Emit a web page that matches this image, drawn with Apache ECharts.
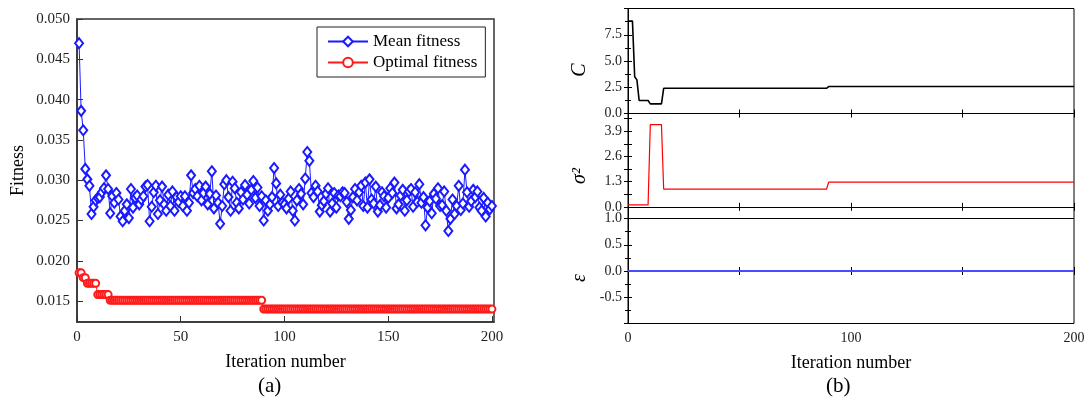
<!DOCTYPE html>
<html>
<head>
<meta charset="utf-8">
<title>Fitness and parameters</title>
<script src="https://cdn.jsdelivr.net/npm/echarts@6/dist/echarts.min.js"></script>
<style>
  html, body { margin: 0; padding: 0; background: #fff; }
  #chart { width: 1089px; height: 402px; }
</style>
</head>
<body>
<div id="chart"></div>
<script>
// (a) fitness per iteration, iterations 1..200
const meanFitness = [
  0.0470, 0.0386, 0.0362, 0.0314, 0.0301, 0.0293, 0.0258, 0.0267, 0.0275, 0.0278,
  0.0279, 0.0285, 0.0290, 0.0306, 0.0289, 0.0259, 0.0280, 0.0272, 0.0284, 0.0276,
  0.0255, 0.0249, 0.0262, 0.0270, 0.0253, 0.0289, 0.0266, 0.0278, 0.0281, 0.0270,
  0.0276, 0.0280, 0.0292, 0.0294, 0.0249, 0.0267, 0.0285, 0.0293, 0.0258, 0.0275,
  0.0292, 0.0270, 0.0262, 0.0282, 0.0268, 0.0286, 0.0262, 0.0279, 0.0273, 0.0280,
  0.0268, 0.0280, 0.0262, 0.0272, 0.0306, 0.0284, 0.0289, 0.0280, 0.0293, 0.0275,
  0.0284, 0.0292, 0.0270, 0.0283, 0.0311, 0.0265, 0.0281, 0.0272, 0.0246, 0.0268,
  0.0295, 0.0300, 0.0279, 0.0262, 0.0298, 0.0290, 0.0272, 0.0265, 0.0285, 0.0276,
  0.0294, 0.0282, 0.0271, 0.0288, 0.0299, 0.0278, 0.0291, 0.0268, 0.0280, 0.0250,
  0.0275, 0.0262, 0.0270, 0.0279, 0.0315, 0.0296, 0.0268, 0.0282, 0.0272, 0.0270,
  0.0265, 0.0277, 0.0286, 0.0262, 0.0250, 0.0275, 0.0289, 0.0283, 0.0270, 0.0302,
  0.0335, 0.0324, 0.0284, 0.0279, 0.0293, 0.0286, 0.0261, 0.0269, 0.0274, 0.0283,
  0.0290, 0.0261, 0.0271, 0.0284, 0.0266, 0.0281, 0.0280, 0.0285, 0.0284, 0.0273,
  0.0252, 0.0263, 0.0279, 0.0289, 0.0275, 0.0285, 0.0293, 0.0268, 0.0297, 0.0266,
  0.0301, 0.0276, 0.0271, 0.0292, 0.0261, 0.0269, 0.0285, 0.0280, 0.0266, 0.0278,
  0.0290, 0.0284, 0.0297, 0.0265, 0.0270, 0.0281, 0.0288, 0.0262, 0.0275, 0.0286,
  0.0289, 0.0267, 0.0285, 0.0273, 0.0295, 0.0272, 0.0279, 0.0244, 0.0266, 0.0274,
  0.0259, 0.0283, 0.0277, 0.0290, 0.0268, 0.0269, 0.0286, 0.0262, 0.0237, 0.0252,
  0.0276, 0.0258, 0.0268, 0.0293, 0.0263, 0.0271, 0.0313, 0.0285, 0.0267, 0.0274,
  0.0288, 0.0279, 0.0286, 0.0266, 0.0262, 0.0278, 0.0255, 0.0272, 0.0264, 0.0268
];
const optimalFitness = [
  0.0185, 0.0185, 0.0179, 0.0179, 0.0172, 0.0172, 0.0172, 0.0172, 0.0172, 0.0158,
  0.0158, 0.0158, 0.0158, 0.0158, 0.0158, 0.0151, 0.0151, 0.0151, 0.0151, 0.0151,
  0.0151, 0.0151, 0.0151, 0.0151, 0.0151, 0.0151, 0.0151, 0.0151, 0.0151, 0.0151,
  0.0151, 0.0151, 0.0151, 0.0151, 0.0151, 0.0151, 0.0151, 0.0151, 0.0151, 0.0151,
  0.0151, 0.0151, 0.0151, 0.0151, 0.0151, 0.0151, 0.0151, 0.0151, 0.0151, 0.0151,
  0.0151, 0.0151, 0.0151, 0.0151, 0.0151, 0.0151, 0.0151, 0.0151, 0.0151, 0.0151,
  0.0151, 0.0151, 0.0151, 0.0151, 0.0151, 0.0151, 0.0151, 0.0151, 0.0151, 0.0151,
  0.0151, 0.0151, 0.0151, 0.0151, 0.0151, 0.0151, 0.0151, 0.0151, 0.0151, 0.0151,
  0.0151, 0.0151, 0.0151, 0.0151, 0.0151, 0.0151, 0.0151, 0.0151, 0.0151, 0.0140,
  0.0140, 0.0140, 0.0140, 0.0140, 0.0140, 0.0140, 0.0140, 0.0140, 0.0140, 0.0140,
  0.0140, 0.0140, 0.0140, 0.0140, 0.0140, 0.0140, 0.0140, 0.0140, 0.0140, 0.0140,
  0.0140, 0.0140, 0.0140, 0.0140, 0.0140, 0.0140, 0.0140, 0.0140, 0.0140, 0.0140,
  0.0140, 0.0140, 0.0140, 0.0140, 0.0140, 0.0140, 0.0140, 0.0140, 0.0140, 0.0140,
  0.0140, 0.0140, 0.0140, 0.0140, 0.0140, 0.0140, 0.0140, 0.0140, 0.0140, 0.0140,
  0.0140, 0.0140, 0.0140, 0.0140, 0.0140, 0.0140, 0.0140, 0.0140, 0.0140, 0.0140,
  0.0140, 0.0140, 0.0140, 0.0140, 0.0140, 0.0140, 0.0140, 0.0140, 0.0140, 0.0140,
  0.0140, 0.0140, 0.0140, 0.0140, 0.0140, 0.0140, 0.0140, 0.0140, 0.0140, 0.0140,
  0.0140, 0.0140, 0.0140, 0.0140, 0.0140, 0.0140, 0.0140, 0.0140, 0.0140, 0.0140,
  0.0140, 0.0140, 0.0140, 0.0140, 0.0140, 0.0140, 0.0140, 0.0140, 0.0140, 0.0140,
  0.0140, 0.0140, 0.0140, 0.0140, 0.0140, 0.0140, 0.0140, 0.0140, 0.0140, 0.0140
];
const fitnessTicks = [0.015, 0.020, 0.025, 0.030, 0.035, 0.040, 0.045, 0.050];
const iterTicksA = [0, 50, 100, 150, 200];

// (b) parameters, [iteration, value] at the corners of each line
const paramC = [[0, 8.8], [2, 8.8], [3, 3.5], [4, 3.2], [5, 1.24], [9, 1.24], [10, 0.92],
  [15, 0.92], [16, 2.4], [89, 2.4], [90, 2.57], [200, 2.57]];
const paramSigma = [[0, 0.1], [9, 0.1], [10, 4.24], [15, 4.24], [16, 0.91], [89, 0.91],
  [90, 1.27], [200, 1.27]];
const paramEps = [[0, 0], [200, 0]];
const cLabels = [0, 2.5, 5, 7.5];
const sigmaTicks = [0, 0.65, 1.3, 1.95, 2.6, 3.25, 3.9, 4.55];
const sigmaLabels = [0, 1.3, 2.6, 3.9];
const epsLabels = [-0.5, 0, 0.5, 1];
const iterLabelsB = [0, 100, 200];

const serif = "'Liberation Serif', 'DejaVu Serif', serif";
const chart = echarts.init(document.getElementById('chart'));

// one x axis of the right-hand panels
function panelX(grid, pos, showLabels) {
  return {
    type: 'value', gridIndex: grid, position: pos, min: 0, max: 200, interval: 50,
    axisLine: { show: true, lineStyle: { color: '#000', width: 1 } },
    axisTick: { show: true, inside: true, length: 4, lineStyle: { color: '#000' } },
    axisLabel: {
      show: showLabels, customValues: iterLabelsB, margin: 8,
      fontFamily: serif, fontSize: 14, color: '#222'
    },
    splitLine: { show: false }
  };
}

// one y axis of the right-hand panels
function panelY(grid, pos, range, labels) {
  const ax = {
    type: 'value', gridIndex: grid, position: pos, min: range[0], max: range[1],
    axisLine: { show: true, lineStyle: { color: '#000', width: 1 } },
    axisTick: { show: true, inside: true, length: 4, lineStyle: { color: '#000' } },
    minorTick: { show: false },
    axisLabel: {
      show: pos === 'left', customValues: labels, margin: 6,
      fontFamily: serif, fontSize: 14, color: '#222',
      formatter: v => v.toFixed(1)
    },
    splitLine: { show: false }
  };
  if (range[2]) {
    ax.interval = range[2];
    ax.minorTick = { show: true, splitNumber: 2, length: 3, lineStyle: { color: '#000' } };
  } else {
    ax.axisTick.customValues = sigmaTicks;
  }
  return ax;
}

// rotated italic names of the right-hand panels
function sideName(text, x, y) {
  return {
    type: 'text', x: x, y: y, rotation: Math.PI / 2,
    style: {
      text: text, font: 'italic 20px ' + serif, fill: '#000',
      align: 'center', verticalAlign: 'middle'
    }
  };
}

const option = {
  animation: false,
  backgroundColor: '#fff',
  grid: [
    { left: 77, top: 19, width: 417, height: 303, show: true, borderColor: '#333', borderWidth: 1.5 },
    { left: 628, top: 8.5, width: 446, height: 105, show: true, borderColor: '#000', borderWidth: 1 },
    { left: 628, top: 113.5, width: 446, height: 105, show: true, borderColor: '#000', borderWidth: 1 },
    { left: 628, top: 218.5, width: 446, height: 105, show: true, borderColor: '#000', borderWidth: 1 }
  ],
  legend: {
    orient: 'vertical', left: 317, top: 27,
    padding: [6, 8, 6, 10], itemGap: 4, itemWidth: 40, itemHeight: 12,
    borderColor: '#222', borderWidth: 1, backgroundColor: '#fff',
    textStyle: { fontFamily: serif, fontSize: 17, color: '#000' },
    data: ['Mean fitness', 'Optimal fitness']
  },
  xAxis: [
    {
      type: 'value', gridIndex: 0, min: 0, max: 201,
      name: 'Iteration number', nameLocation: 'middle', nameGap: 31,
      nameTextStyle: { fontFamily: serif, fontSize: 18, color: '#000' },
      axisLine: { show: true, lineStyle: { color: '#333', width: 1.5 } },
      axisTick: { show: true, inside: true, length: 6, customValues: iterTicksA, lineStyle: { color: '#333' } },
      axisLabel: { customValues: iterTicksA, margin: 8, fontFamily: serif, fontSize: 15, color: '#222' },
      splitLine: { show: false }
    },
    panelX(1, 'bottom', false), panelX(1, 'top', false),
    panelX(2, 'bottom', false), panelX(2, 'top', false),
    Object.assign(panelX(3, 'bottom', true), {
      name: 'Iteration number', nameLocation: 'middle', nameGap: 31,
      nameTextStyle: { fontFamily: serif, fontSize: 18, color: '#000' }
    }),
    panelX(3, 'top', false)
  ],
  yAxis: [
    {
      type: 'value', gridIndex: 0, min: 0.0124, max: 0.050,
      name: 'Fitness', nameLocation: 'middle', nameRotate: 90, nameGap: 50,
      nameTextStyle: { fontFamily: serif, fontSize: 18, color: '#000' },
      axisLine: { show: true, lineStyle: { color: '#333', width: 1.5 } },
      axisTick: { show: true, inside: true, length: 6, customValues: fitnessTicks, lineStyle: { color: '#333' } },
      axisLabel: {
        customValues: fitnessTicks, margin: 7, fontFamily: serif, fontSize: 15, color: '#222',
        formatter: v => v.toFixed(3)
      },
      splitLine: { show: false }
    },
    panelY(1, 'left', [0, 10, 2.5], cLabels),
    panelY(1, 'right', [0, 10, 2.5], cLabels),
    panelY(2, 'left', [-0.6, 4.81], sigmaLabels),
    panelY(2, 'right', [-0.6, 4.81], sigmaLabels),
    panelY(3, 'left', [-1, 1, 0.5], epsLabels),
    panelY(3, 'right', [-1, 1, 0.5], epsLabels)
  ],
  graphic: [
    { type: 'text', left: 258, top: 376, style: { text: '(a)', font: '21px ' + serif, fill: '#000' } },
    { type: 'text', left: 826, top: 376, style: { text: '(b)', font: '21px ' + serif, fill: '#000' } },
    sideName('C', 580, 70),
    sideName('σ²', 580, 176),
    sideName('ε', 580, 278)
  ],
  series: [
    {
      name: 'Mean fitness', type: 'line', xAxisIndex: 0, yAxisIndex: 0,
      data: meanFitness.map((v, i) => [i + 1, v]),
      symbol: 'emptyDiamond', symbolSize: [8, 10],
      lineStyle: { color: '#1a1aff', width: 1 },
      itemStyle: { color: '#1a1aff', borderWidth: 1 }
    },
    {
      name: 'Optimal fitness', type: 'line', xAxisIndex: 0, yAxisIndex: 0,
      data: optimalFitness.map((v, i) => [i + 1, v]),
      symbol: 'emptyCircle', symbolSize: 7,
      lineStyle: { color: '#ff1a1a', width: 1 },
      itemStyle: { color: '#ff1a1a', borderWidth: 1 }
    },
    {
      type: 'line', xAxisIndex: 1, yAxisIndex: 1, data: paramC, showSymbol: false,
      lineStyle: { color: '#000', width: 1.6 }
    },
    {
      type: 'line', xAxisIndex: 3, yAxisIndex: 3, data: paramSigma, showSymbol: false,
      lineStyle: { color: '#ff0000', width: 1.2 }
    },
    {
      type: 'line', xAxisIndex: 5, yAxisIndex: 5, data: paramEps, showSymbol: false,
      lineStyle: { color: '#4a4aff', width: 2 }
    }
  ]
};

chart.setOption(option);
</script>
</body>
</html>
